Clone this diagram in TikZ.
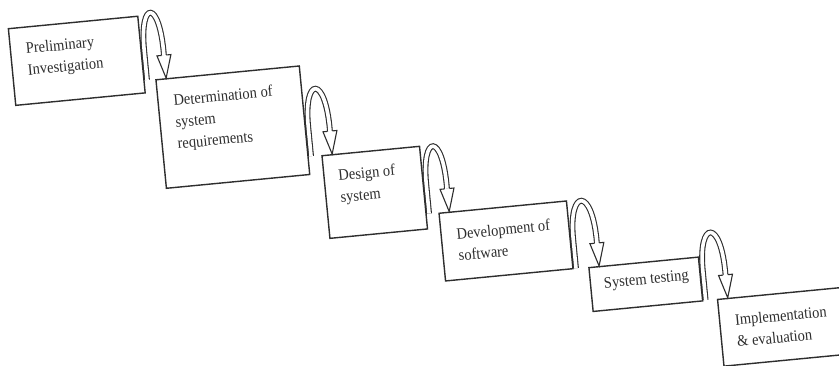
\documentclass[tikz,border=0pt]{standalone}
\usepackage{fontspec}
\setmainfont{Liberation Serif}
\usetikzlibrary{calc}
\definecolor{ink}{HTML}{2E2E2E}
\newcommand\stepArrowLoop[3]{%
  \coordinate (#3s) at ($(#1.north east |- #2.north)+(2.4,0)$);
  \coordinate (#3b) at ($(#2.north west)+(11,23)$);
  \coordinate (#3t) at ($(#2.north west)+(11,0)$);
  \draw[band] (#3s) -- ($(#3s)+(0,30)$) .. controls ($(#3s)+(0,80)$) and ($(#3b)+(1,57)$) .. (#3b);
  \draw[headst] ($(#3b)+(-2.4,0)$) -- ($(#3b)+(-7,0)$) -- (#3t) -- ($(#3b)+(7,0)$) -- ($(#3b)+(2.4,0)$);
}
\begin{document}
\begin{tikzpicture}[x=1pt,y=1pt,
  box/.style 2 args={draw=ink, line width=1.4pt, minimum width=#1pt, minimum height=#2pt, inner sep=0pt},
  txt/.style={anchor=north west, inner sep=0pt, align=left, text=ink, font=\fontsize{14.5}{19.6}\selectfont, yscale=1.1},
  band/.style={draw=ink, line width=1.1pt, double=white, double distance=3.6pt},
  headst/.style={draw=ink, line width=1.1pt, fill=white, line join=miter}]
\useasboundingbox (0,-365) rectangle (839,0);
\fill[white] (0,-365) rectangle (839,0);
\clip (0,-365) rectangle (839,0);
\begin{scope}[rotate around={5.5:(419.5,-182.5)}, every node/.append style={transform shape}]
  \node[box={130}{77}] (b1) at (90,-28.5) {};
  \node[box={144}{109}] (b2) at (239,-109.5) {};
  \node[box={98}{83}] (b3) at (374,-188) {};
  \node[box={128}{68}] (b4) at (500,-249) {};
  \node[box={110}{44}] (b5) at (635,-305.5) {};
  \node[box={170}{67}] (b6) at (790,-361) {};
  \node[txt] (t1) at ($(b1.north west)+(16,-16)$) {Preliminary\\Investigation};
  \node[txt] (t2) at ($(b2.north west)+(16,-17)$) {Determination of\\system\\requirements};
  \node[txt] (t3) at ($(b3.north west)+(15,-16)$) {Design of\\system};
  \node[txt] (t4) at ($(b4.north west)+(16,-17)$) {Development of\\software};
  \node[txt] (t5) at ($(b5.north west)+(14,-12)$) {System testing};
  \node[txt] (t6) at ($(b6.north west)+(16,-17)$) {Implementation\\\& evaluation};
  \stepArrowLoop{b1}{b2}{a1}
  \stepArrowLoop{b2}{b3}{a2}
  \stepArrowLoop{b3}{b4}{a3}
  \stepArrowLoop{b4}{b5}{a4}
  \stepArrowLoop{b5}{b6}{a5}
\end{scope}
\end{tikzpicture}
\end{document}
